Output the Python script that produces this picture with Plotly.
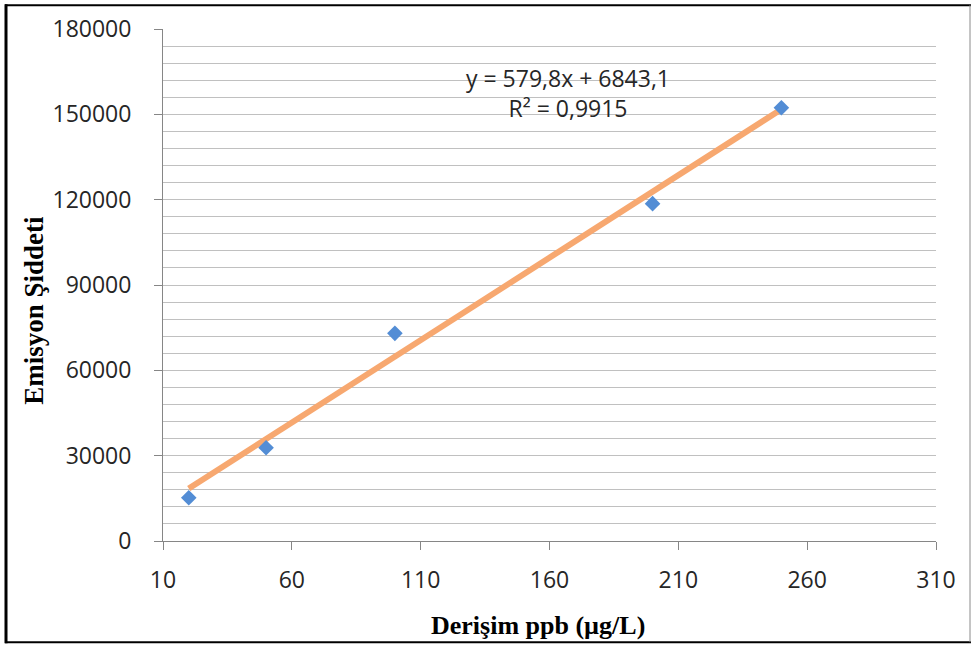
import plotly.graph_objects as go

# Data
concentration = [20, 50, 100, 200, 250]
intensity = [15200, 32800, 73000, 118600, 152300]
slope = 579.8
intercept = 6843.1
equation_text = "y = 579,8x + 6843,1<br>R² = 0,9915"
x_title = "Derişim ppb (µg/L)"
y_title = "Emisyon Şiddeti"
x_ticks = [10, 60, 110, 160, 210, 260, 310]
y_ticks = [0, 30000, 60000, 90000, 120000, 150000, 180000]

W, H = 974, 645
L, R, T, B = 163, 38, 25, 104
pw, ph = W - L - R, H - T - B

def px(xp):
    return (xp - L) / pw

def py(yp):
    return (H - B - yp) / ph

trend_x = [min(concentration), max(concentration)]
trend_y = [slope * v + intercept for v in trend_x]

fig = go.Figure()
fig.add_trace(go.Scatter(
    x=trend_x, y=trend_y, mode="lines",
    line=dict(color="rgb(247,168,112)", width=6),
    hoverinfo="skip", showlegend=False))
fig.add_trace(go.Scatter(
    x=concentration, y=intensity, mode="markers",
    marker=dict(symbol="diamond", size=12, color="rgb(83,141,213)"),
    showlegend=False))

tick_font = dict(family="Open Sans, Noto Sans, sans-serif", size=23, color="#262626")
title_font_x = dict(family="Liberation Serif, Times New Roman, serif", size=26, color="black")
title_font_y = dict(family="Liberation Serif, Times New Roman, serif", size=27, color="black")

fig.update_xaxes(
    range=[10, 310], tickvals=x_ticks, ticktext=[str(v) for v in x_ticks],
    showgrid=False, zeroline=False,
    showline=True, linecolor="#868686", linewidth=1,
    ticks="outside", ticklen=8, tickcolor="#868686", tickwidth=1,
    tickfont=tick_font, ticklabelstandoff=10)
fig.update_yaxes(
    range=[0, 180000], tickvals=y_ticks, ticktext=[str(v) for v in y_ticks],
    showgrid=True, gridcolor="#c0c0c0", gridwidth=1, zeroline=False,
    minor=dict(dtick=6000, showgrid=True, gridcolor="#c0c0c0", gridwidth=1, ticks=""),
    showline=True, linecolor="#868686", linewidth=1,
    ticks="outside", ticklen=8, tickcolor="#868686", tickwidth=1,
    tickfont=tick_font, ticklabelstandoff=18)

annotations = [
    dict(x=px(568), y=py(90), xref="paper", yref="paper", text=equation_text,
         showarrow=False, align="center", xanchor="center", yanchor="middle",
         font=dict(family="Open Sans, Noto Sans, sans-serif", size=23, color="#262626")),
    dict(x=px(538), y=py(626), xref="paper", yref="paper", text="<b>" + x_title + "</b>",
         showarrow=False, xanchor="center", yanchor="middle", font=title_font_x),
    dict(x=px(34), y=py(309), xref="paper", yref="paper", text="<b>" + y_title + "</b>",
         showarrow=False, xanchor="center", yanchor="middle", textangle=-90, font=title_font_y),
]

shapes = [
    dict(type="line", xref="paper", yref="paper", x0=px(6), x1=px(6), y0=py(0), y1=py(644),
         line=dict(color="black", width=3)),
    dict(type="line", xref="paper", yref="paper", x0=px(5), x1=px(971), y0=py(1), y1=py(1),
         line=dict(color="black", width=2)),
    dict(type="line", xref="paper", yref="paper", x0=px(5), x1=px(971), y0=py(643), y1=py(643),
         line=dict(color="black", width=2)),
    dict(type="line", xref="paper", yref="paper", x0=px(970), x1=px(970), y0=py(1), y1=py(643),
         line=dict(color="#8a8a8a", width=1)),
]

fig.update_layout(
    width=W, height=H, margin=dict(l=L, r=R, t=T, b=B),
    paper_bgcolor="white", plot_bgcolor="white",
    annotations=annotations, shapes=shapes)

fig.write_html(
    "out.html",
    config={"displayModeBar": False},
    post_script="document.body.style.margin='0';document.body.style.overflow='hidden';")
